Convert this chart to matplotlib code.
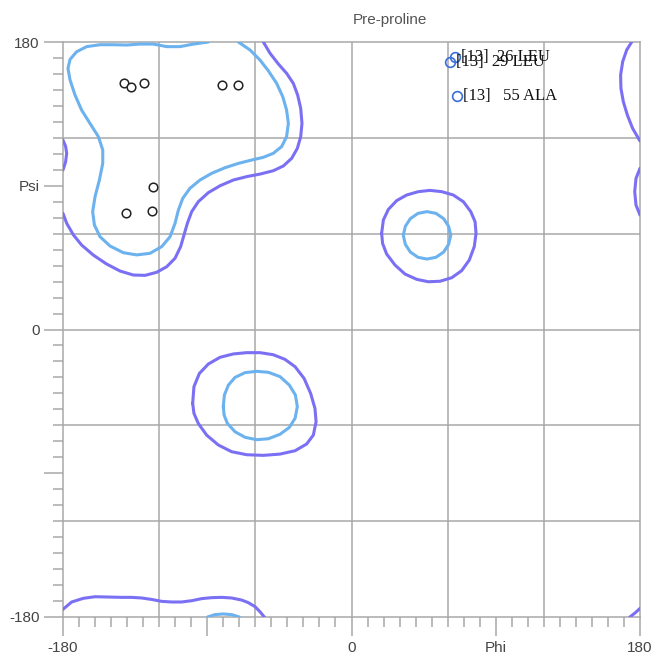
import matplotlib
matplotlib.use("Agg")
import matplotlib.pyplot as plt
from matplotlib.ticker import MultipleLocator, FixedLocator

# contour lines (phi, psi in degrees)
outer_main_phi = [-180, -177.7, -173.5, -168.4, -161.1, -152.8, -144.4, -136.1, -128.8, -121.6, -115.3,
                  -110.1, -106.6, -104.5, -102.4, -99.7, -95.6, -89.3, -82.0, -73.7, -65.4, -57.1,
                  -48.8, -42.5, -37.3, -33.8, -31.7, -30.9, -31.7, -33.6, -36.3, -40.5, -45.6, -50.8, -55.0]
outer_main_psi = [72.7, 66.5, 59.2, 52.9, 46.6, 41.0, 36.6, 34.1, 33.9, 35.8, 39.3,
                  44.6, 51.9, 59.2, 66.5, 73.8, 80.0, 85.7, 90.0, 93.6, 95.7, 97.3,
                  99.4, 102.4, 107.2, 113.4, 120.7, 129.1, 138.5, 146.8, 154.1, 160.4, 166.2, 172.9, 180]
outer_bottom_phi = [-54.4, -57.1, -60.2, -64.4, -68.5, -74.8, -81.0, -87.3, -93.5, -99.7, -106.0,
                    -112.2, -118.5, -124.7, -130.9, -137.2, -143.4, -151.7, -160.0, -167.3, -174.6, -180]
outer_bottom_psi = [-180, -176.7, -173.5, -171.0, -169.4, -168.1, -167.7, -167.9, -168.5, -169.8, -170.6,
                    -170.6, -170.2, -169.0, -168.1, -167.7, -167.7, -167.5, -167.3, -168.3, -170.6, -175.2]
outer_br_phi = [180, 177.0, 173.7]
outer_br_psi = [-174.6, -177.4, -180]
outer_tr_phi = [174.8, 171.7, 169.2, 167.9, 168.1, 169.6, 172.1, 175.4, 180]
outer_tr_psi = [180, 175.0, 167.7, 159.3, 151.0, 142.6, 134.3, 125.9, 118.0]
outer_left_phi = [-180, -178.4, -177.7, -178.4, -180]
outer_left_psi = [118.6, 114.8, 110.3, 104.8, 99.9]
outer_right_phi = [180, 177.5, 176.7, 177.5, 180]
outer_right_psi = [100.9, 94.6, 86.3, 77.9, 71.7]

outer_alpha_l_phi = [18.8, 19.9, 23.0, 28.2, 34.4, 41.7, 49.0, 56.3, 63.5, 69.8, 74.4, 77.1, 77.7,
                     76.6, 73.5, 68.7, 62.5, 55.2, 47.9, 40.7, 33.4, 27.1, 21.9, 19.4, 18.8]
outer_alpha_l_psi = [60.2, 68.6, 75.2, 80.7, 84.2, 86.3, 87.1, 86.3, 84.2, 80.0, 73.8, 67.5, 60.2,
                     51.9, 43.5, 36.8, 32.4, 30.2, 29.9, 31.4, 34.7, 40.4, 47.3, 53.9, 60.2]
inner_alpha_l_phi = [61.9, 60.6, 57.5, 52.7, 47.1, 41.5, 36.7, 33.6, 32.3, 33.6, 36.7, 41.5, 47.1,
                     52.7, 57.5, 60.6, 61.9]
inner_alpha_l_psi = [59.0, 64.6, 69.4, 72.7, 73.8, 72.7, 69.4, 64.6, 59.0, 53.3, 48.5, 45.2, 44.1,
                     45.2, 48.5, 53.3, 59.0]

outer_alpha_phi = [-99.1, -98.3, -94.9, -89.3, -82.0, -73.7, -65.4, -57.1, -48.8, -41.5, -35.2, -29.6, -25.5,
                   -22.8, -22.1, -23.8, -28.0, -35.2, -44.6, -55.0, -65.4, -74.8, -83.1, -90.4, -95.6, -98.3, -99.1]
outer_alpha_psi = [-46.2, -35.8, -27.5, -21.6, -17.4, -15.3, -14.5, -14.5, -15.8, -18.7, -23.3, -30.6, -40.0,
                   -49.4, -57.7, -66.1, -71.7, -75.9, -78.0, -78.8, -78.4, -76.5, -72.3, -66.1, -58.8, -52.5, -46.2]
inner_alpha_phi = [-80.0, -79.3, -76.8, -72.7, -66.4, -59.2, -51.9, -44.6, -38.8, -35.0, -33.8, -35.2, -38.8,
                   -44.6, -51.9, -59.2, -66.4, -72.7, -77.5, -79.5, -80.0]
inner_alpha_psi = [-48.3, -41.0, -34.8, -30.0, -27.0, -26.2, -26.8, -29.5, -34.8, -41.0, -48.3, -55.6, -61.3,
                   -65.6, -68.4, -69.0, -67.5, -64.0, -58.7, -53.5, -48.3]

inner_main_phi = [-70.6, -63.3, -57.1, -51.9, -46.7, -42.9, -40.5, -39.4, -40.5, -43.6, -48.8, -55.0, -62.3,
                  -70.6, -78.9, -87.2, -94.5, -100.8, -105.3, -108.0, -110.1, -113.2, -118.4, -125.7, -134.0,
                  -142.4, -150.7, -156.9, -160.4, -161.5, -160.0, -157.3, -155.2, -155.2, -157.9, -163.2,
                  -168.4, -172.5, -175.6, -176.9, -175.6, -171.5, -165.2, -156.9, -148.6, -140.3, -131.9,
                  -123.6, -115.3, -107.0, -98.7, -89.3]
inner_main_psi = [180, 175.0, 168.7, 162.0, 154.1, 145.8, 137.4, 129.1, 120.7, 114.5, 110.3, 107.8, 106.1,
                  104.0, 101.3, 97.8, 93.6, 88.4, 82.1, 74.8, 66.5, 58.1, 51.9, 47.7, 46.7,
                  48.1, 52.3, 58.1, 65.4, 73.8, 83.2, 93.6, 104.0, 112.4, 120.7, 129.1,
                  137.4, 146.8, 156.2, 163.5, 169.1, 173.9, 177.1, 178.3, 178.3, 178.1, 178.7,
                  178.7, 177.1, 177.1, 178.7, 180]
inner_bottom_phi = [-89.8, -85.2, -80.0, -74.8, -70.0]
inner_bottom_psi = [-180, -178.5, -178.1, -178.5, -180]

# residues
pts_phi = [-141.7, -137.8, -129.5, -81.0, -71.0, -123.7, -124.7, -140.7]
pts_psi = [154.1, 152.0, 154.1, 153.1, 153.1, 89.4, 74.2, 73.1]
out_phi = [64.6, 61.5, 65.8]
out_psi = [170.6, 167.5, 146.2]
out_labels = ["[13]  26 LEU", "[13]  29 LEU", "[13]   55 ALA"]

outer_col = "#7b70f4"
inner_col = "#6cb2ee"
grid_col = "#a8a8a8"
text_col = "#444444"

fig = plt.figure(figsize=(6.57, 6.55), dpi=100)
ax = fig.add_axes([63 / 657, 1 - 617 / 655, 577 / 657, 575 / 655])

outer = [(outer_main_phi, outer_main_psi), (outer_bottom_phi, outer_bottom_psi),
         (outer_br_phi, outer_br_psi), (outer_tr_phi, outer_tr_psi),
         (outer_left_phi, outer_left_psi), (outer_right_phi, outer_right_psi),
         (outer_alpha_l_phi, outer_alpha_l_psi), (outer_alpha_phi, outer_alpha_psi)]
inner = [(inner_main_phi, inner_main_psi), (inner_bottom_phi, inner_bottom_psi),
         (inner_alpha_l_phi, inner_alpha_l_psi), (inner_alpha_phi, inner_alpha_psi)]
for xs, ys in outer:
    ax.plot(xs, ys, color=outer_col, lw=2.2, solid_joinstyle="round", solid_capstyle="round", zorder=3)
for xs, ys in inner:
    ax.plot(xs, ys, color=inner_col, lw=2.2, solid_joinstyle="round", solid_capstyle="round", zorder=3)

ax.plot(pts_phi, pts_psi, "o", mfc="white", mec="#222222", mew=1.1, ms=6.2, zorder=4, clip_on=False)
ax.plot(out_phi, out_psi, "o", mfc="none", mec="#3c6fd6", mew=1.2, ms=7, zorder=4, clip_on=False)
for x, y, s in zip(out_phi, out_psi, out_labels):
    ax.annotate(s, (x, y), xytext=(4, 0), textcoords="offset points", va="center", ha="left",
                fontsize=12, family="Liberation Serif", color="#111111", zorder=5)

ax.set_xlim(-180, 180)
ax.set_ylim(-180, 180)

ax.xaxis.set_major_locator(FixedLocator([-180, -90, 0, 90, 180]))
ax.yaxis.set_major_locator(FixedLocator([-180, -90, 0, 90, 180]))
ax.xaxis.set_minor_locator(MultipleLocator(10))
ax.yaxis.set_minor_locator(MultipleLocator(10))
ax.set_xticklabels(["-180", "", "0", "Phi", "180"])
ax.set_yticklabels(["-180", "", "0", "Psi", "180"])
ax.tick_params(which="major", length=14, width=1.1, color=grid_col, labelsize=11,
               labelcolor=text_col, pad=3)
ax.tick_params(which="minor", length=7, width=1.1, color=grid_col)
for lab in ax.get_xticklabels() + ax.get_yticklabels():
    lab.set_family("Liberation Sans")

for v in [-120, -60, 0, 60, 120]:
    ax.axvline(v, color=grid_col, lw=1.1, zorder=1)
    ax.axhline(v, color=grid_col, lw=1.1, zorder=1)
for sp in ax.spines.values():
    sp.set_color(grid_col)
    sp.set_linewidth(1.1)

fig.text(390 / 657, 1 - 20 / 655, "Pre-proline", ha="center", va="center",
         fontsize=11, color="#555555", family="Liberation Sans")

fig.savefig("out.png", dpi=100)
